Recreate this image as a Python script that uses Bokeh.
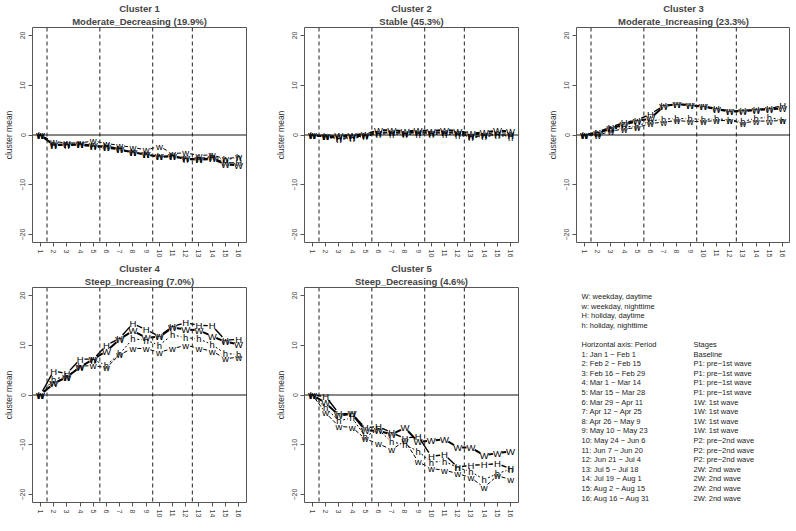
import math
from bokeh.plotting import figure
from bokeh.layouts import row, column
from bokeh.models import Range1d, FixedTicker, Span, Title
from bokeh.embed import file_html
from bokeh.resources import INLINE
from bokeh.core.properties import value

# ---------------- data ----------------
periods = list(range(1, 17))
period_tick_labels = {i: str(i) for i in periods}
y_ticks = [-20, -10, 0, 10, 20]
stage_breaks = [1.5, 5.5, 9.5, 12.5]

cluster_titles = ["Cluster 1", "Cluster 2", "Cluster 3", "Cluster 4", "Cluster 5"]
cluster_subtitles = ["Moderate_Decreasing (19.9%)", "Stable (45.3%)",
                     "Moderate_Increasing (23.3%)", "Steep_Increasing (7.0%)",
                     "Steep_Decreasing (4.6%)"]
series_symbols = ["W", "w", "H", "h"]

c1_W = [0, -2.0, -1.9, -1.9, -2.1, -2.5, -2.9, -3.5, -3.9, -4.4, -4.3, -4.8, -5.0, -4.8, -5.9, -6.1]
c1_w = [0, -1.3, -1.6, -1.6, -1.2, -1.7, -2.1, -2.5, -3.0, -2.3, -3.7, -3.6, -4.1, -4.0, -4.8, -4.4]
c1_H = [0, -2.1, -2.0, -2.0, -2.3, -2.2, -2.8, -3.6, -3.9, -4.4, -4.2, -4.7, -4.9, -4.6, -5.6, -5.6]
c1_h = [0, -2.1, -2.1, -2.0, -2.4, -2.6, -3.0, -3.5, -4.0, -4.3, -4.3, -4.9, -4.7, -4.4, -5.0, -4.5]

c2_W = [0, -0.3, -0.2, 0.0, 0.2, 0.9, 1.0, 0.7, 0.9, 0.8, 1.0, 0.8, 0.3, 0.5, 0.9, 0.7]
c2_w = [0, -0.4, -0.4, -0.2, 0.0, 0.5, 0.6, 0.3, 0.6, 0.5, 0.6, 0.5, 0.0, 0.2, 0.5, 0.3]
c2_H = [0, -0.3, -0.7, -0.5, -0.1, 0.4, 0.5, 0.4, 0.5, 0.3, 0.5, 0.3, -0.3, -0.2, 0.2, -0.2]
c2_h = [0, -0.4, -0.9, -0.7, -0.3, 0.2, 0.2, 0.1, 0.2, 0.1, 0.2, 0.0, -0.5, -0.4, 0.0, -0.5]

c3_W = [0, 0.4, 1.3, 2.1, 2.8, 3.3, 5.8, 6.2, 6.0, 5.7, 5.2, 4.7, 4.8, 5.0, 5.2, 5.3]
c3_w = [0, -0.1, 0.8, 1.2, 1.5, 2.3, 2.6, 2.9, 2.7, 2.7, 2.9, 2.9, 2.4, 2.8, 2.8, 2.9]
c3_H = [0, 0.6, 1.6, 2.5, 3.0, 4.2, 5.9, 6.2, 6.0, 5.8, 5.3, 4.8, 4.9, 5.1, 5.3, 5.9]
c3_h = [0, 0.3, 1.1, 1.6, 1.8, 2.8, 3.2, 3.3, 3.3, 3.1, 3.3, 3.0, 2.7, 3.4, 3.5, 3.0]

c4_W = [0, 2.3, 3.6, 5.6, 7.2, 8.8, 11.2, 12.9, 11.5, 11.7, 13.5, 13.2, 13.0, 11.8, 10.7, 10.2]
c4_w = [0, 2.5, 3.6, 5.8, 5.9, 5.5, 8.1, 9.4, 9.3, 8.6, 9.3, 10.0, 9.4, 8.8, 7.3, 7.6]
c4_H = [0, 4.8, 4.3, 7.2, 7.2, 10.0, 11.4, 14.4, 13.1, 11.8, 13.8, 14.5, 14.0, 13.9, 11.0, 11.2]
c4_h = [0, 3.2, 3.7, 5.8, 7.0, 6.0, 8.3, 11.3, 11.0, 10.0, 12.1, 11.5, 11.3, 10.1, 8.3, 8.2]

c5_W = [0, -1.6, -4.1, -3.8, -7.1, -7.2, -7.9, -6.6, -9.4, -9.2, -8.9, -10.5, -10.6, -12.1, -11.7, -11.3]
c5_w = [0, -3.6, -6.3, -6.5, -8.8, -9.8, -11.0, -9.2, -13.4, -14.8, -15.1, -15.8, -16.6, -18.6, -16.2, -17.0]
c5_H = [0, -0.3, -3.7, -3.8, -6.6, -6.3, -7.6, -8.7, -8.3, -12.3, -12.0, -14.5, -14.1, -14.0, -13.8, -14.8]
c5_h = [0, -2.6, -5.2, -4.6, -8.3, -7.0, -9.4, -10.0, -11.3, -13.5, -13.3, -14.6, -15.4, -17.0, -15.8, -14.9]

legend_codes = ["W: weekday, daytime", "w: weekday, nighttime",
                "H: holiday, daytime", "h: holiday, nighttime"]
period_header = "Horizontal axis: Period"
period_ranges = ["1: Jan 1 \u2212 Feb 1", "2: Feb 2 \u2212 Feb 15", "3: Feb 16 \u2212 Feb 29",
                 "4: Mar 1 \u2212 Mar 14", "5: Mar 15 \u2212 Mar 28", "6: Mar 29 \u2212 Apr 11",
                 "7: Apr 12 \u2212 Apr 25", "8: Apr 26 \u2212 May 9", "9: May 10 \u2212 May 23",
                 "10: May 24 \u2212 Jun 6", "11: Jun 7 \u2212 Jun 20", "12: Jun 21 \u2212 Jul 4",
                 "13: Jul 5 \u2212 Jul 18", "14: Jul 19 \u2212 Aug 1", "15: Aug 2 \u2212 Aug 15",
                 "16: Aug 16 \u2212 Aug 31"]
stage_header = "Stages"
stage_labels = ["Baseline"] + ["P1: pre\u22121st wave"] * 4 + ["1W: 1st wave"] * 4 + \
               ["P2: pre\u22122nd wave"] * 3 + ["2W: 2nd wave"] * 4

clusters = [
    [c1_W, c1_w, c1_H, c1_h],
    [c2_W, c2_w, c2_H, c2_h],
    [c3_W, c3_w, c3_H, c3_h],
    [c4_W, c4_w, c4_H, c4_h],
    [c5_W, c5_w, c5_H, c5_h],
]

# ---------------- styling ----------------
FONT = "Liberation Sans"
FW, FH = 214, 215
BT, BB, BL = 24, 18, 28
XR = (0.4, 16.6)
YR = (-21.6, 21.6)
SX = FW / (XR[1] - XR[0])
SY = FH / (YR[1] - YR[0])
GAP = 4.4

line_styles = {
    "W": dict(line_width=2.0, line_dash="solid"),
    "w": dict(line_width=1.0, line_dash="4 2"),
    "H": dict(line_width=1.4, line_dash="solid"),
    "h": dict(line_width=1.0, line_dash="2 2"),
}


def gapped_segments(xs, ys):
    x0, y0, x1, y1 = [], [], [], []
    for i in range(len(xs) - 1):
        dx = xs[i + 1] - xs[i]
        dy = ys[i + 1] - ys[i]
        L = math.hypot(dx * SX, dy * SY)
        if L <= 2 * GAP:
            continue
        f = GAP / L
        x0.append(xs[i] + f * dx)
        y0.append(ys[i] + f * dy)
        x1.append(xs[i + 1] - f * dx)
        y1.append(ys[i + 1] - f * dy)
    return x0, y0, x1, y1


def make_panel(k, right_border):
    p = figure(frame_width=FW, frame_height=FH,
               min_border_left=BL, min_border_right=right_border,
               min_border_top=BT, min_border_bottom=BB,
               x_range=Range1d(*XR), y_range=Range1d(*YR),
               output_backend="svg", toolbar_location=None, tools="")
    # p.title sits farthest from the frame; added Title sits next to the frame
    p.title.text = cluster_titles[k]
    p.title.align = "center"
    p.title.text_font = FONT
    p.title.text_font_size = "9.5px"
    p.title.text_font_style = "bold"
    p.title.standoff = 0
    t = Title(text=cluster_subtitles[k], align="center", text_font=FONT,
              text_font_size="9.5px", text_font_style="bold", standoff=1)
    p.add_layout(t, "above")

    p.grid.visible = False
    p.outline_line_color = "#555555"
    p.outline_line_width = 1
    p.background_fill_color = "white"
    p.border_fill_color = "white"

    p.xaxis.ticker = FixedTicker(ticks=periods)
    p.xaxis.major_label_overrides = period_tick_labels
    p.yaxis.ticker = FixedTicker(ticks=y_ticks)
    p.yaxis.axis_label = "cluster mean"
    for ax in (p.xaxis, p.yaxis):
        ax.axis_line_color = None
        ax.minor_tick_line_color = None
        ax.major_tick_in = 0
        ax.major_tick_out = 4
        ax.major_tick_line_color = "#555555"
        ax.major_label_text_font = FONT
        ax.major_label_text_font_size = "7px"
        ax.major_label_text_color = "#444444"
        ax.major_label_orientation = "vertical"
        ax.major_label_standoff = 3
    p.yaxis.axis_label_text_font = FONT
    p.yaxis.axis_label_text_font_size = "8.5px"
    p.yaxis.axis_label_text_font_style = "normal"
    p.yaxis.axis_label_text_color = "#333333"
    p.yaxis.axis_label_standoff = 4

    for b in stage_breaks:
        p.add_layout(Span(location=b, dimension="height", line_color="#222222",
                          line_width=1, line_dash="4 3"))
    p.add_layout(Span(location=0, dimension="width", line_color="#111111", line_width=1))

    for sym, ys in zip(series_symbols, clusters[k]):
        x0, y0, x1, y1 = gapped_segments(periods, ys)
        p.segment(x0, y0, x1, y1, line_color="black", **line_styles[sym])
        p.text(x=periods, y=ys, text=[sym] * len(periods), text_color="black",
               text_font=value(FONT), text_font_size="9.5px",
               text_align="center", text_baseline="middle")
    return p


panels = [make_panel(0, 26), make_panel(1, 26), make_panel(2, 0),
          make_panel(3, 26), make_panel(4, 26)]

# ---------------- legend / key panel ----------------
LW = 240
leg = figure(frame_width=LW, frame_height=FH, min_border_left=0, min_border_right=0,
             min_border_top=BT, min_border_bottom=BB,
             x_range=Range1d(0, LW), y_range=Range1d(FH, 0),
             output_backend="svg", toolbar_location=None, tools="")
leg.axis.visible = False
leg.grid.visible = False
leg.outline_line_color = None
leg.border_fill_color = "white"

lh = 9.6
y0 = 9.0
xa, xb = 37, 149
txt_kw = dict(text_color="#222222", text_font=value(FONT), text_font_size="7.5px",
              text_align="left", text_baseline="middle")
leg.text(x=[xa] * len(legend_codes), y=[y0 + i * lh for i in range(len(legend_codes))],
         text=legend_codes, **txt_kw)
leg.text(x=[xa, xb], y=[y0 + 5 * lh, y0 + 5 * lh], text=[period_header, stage_header], **txt_kw)
leg.text(x=[xa] * len(period_ranges), y=[y0 + (6 + i) * lh for i in range(len(period_ranges))],
         text=period_ranges, **txt_kw)
leg.text(x=[xb] * len(stage_labels), y=[y0 + (6 + i) * lh for i in range(len(stage_labels))],
         text=stage_labels, **txt_kw)

layout = column(row(panels[0], panels[1], panels[2]),
                row(panels[3], panels[4], leg))

open("out.html", "w").write(file_html(layout, INLINE))
